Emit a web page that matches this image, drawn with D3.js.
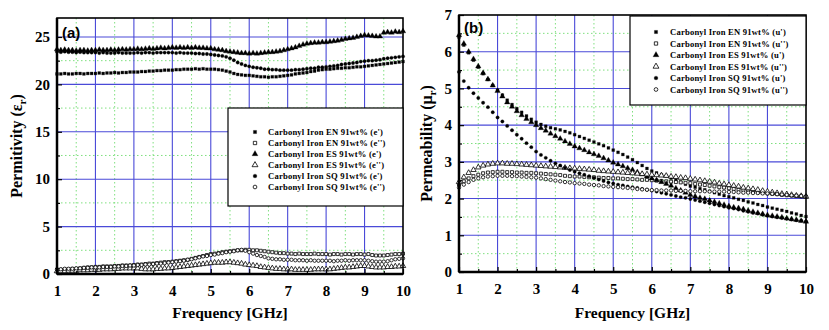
<!DOCTYPE html>
<html>
<head>
<meta charset="utf-8">
<script src="https://cdn.jsdelivr.net/npm/d3@7"></script>
<style>
  body { margin: 0; background: #fff; }
  svg { display: block; }
  .axis path.domain { display: none; }
  .axis line { stroke: #000; stroke-width: 1.2; }
</style>
</head>
<body>
<div id="chart"></div>
<script>
var SERIF = "'Liberation Serif', 'DejaVu Serif', serif";

// x sampling grids (GHz)
var freqA = d3.range(0, 91).map(function(i) { return 1 + i / 10; });
var freqB = d3.range(0, 73).map(function(i) { return 1 + i / 8; });

var xTicks = [1, 2, 3, 4, 5, 6, 7, 8, 9, 10];
var yTicksA = [0, 5, 10, 15, 20, 25];
var yTicksB = [0, 1, 2, 3, 4, 5, 6, 7];

// panel (a) permittivity, 0.1 GHz steps
var enReA = [21.1,21.1,21.15,21.1,21.1,21.15,21.15,21.1,21.15,21.15,
  21.15,21.2,21.15,21.2,21.2,21.25,21.2,21.25,21.25,21.3,
  21.3,21.3,21.35,21.35,21.4,21.4,21.45,21.45,21.5,21.5,
  21.5,21.55,21.55,21.6,21.6,21.6,21.65,21.6,21.65,21.6,
  21.6,21.6,21.55,21.5,21.4,21.3,21.15,21.05,21.0,20.95,
  20.95,20.9,20.85,20.8,20.8,20.75,20.8,20.8,20.85,20.9,
  20.95,21.0,21.1,21.15,21.2,21.25,21.35,21.4,21.5,21.55,
  21.6,21.6,21.65,21.7,21.7,21.75,21.75,21.8,21.85,21.85,
  21.9,21.95,22.0,22.05,22.1,22.15,22.2,22.25,22.3,22.35,
  22.4];
var enImA = [0.45,0.45,0.5,0.5,0.55,0.55,0.6,0.65,0.7,0.7,
  0.75,0.75,0.8,0.8,0.8,0.85,0.85,0.9,0.9,0.9,
  0.95,1.0,1.0,1.05,1.1,1.1,1.15,1.2,1.25,1.25,
  1.3,1.35,1.4,1.45,1.5,1.6,1.7,1.8,1.9,2.0,
  2.1,2.15,2.2,2.3,2.35,2.4,2.45,2.5,2.5,2.55,
  2.55,2.5,2.5,2.45,2.4,2.35,2.3,2.25,2.2,2.2,
  2.15,2.15,2.1,2.15,2.1,2.1,2.1,2.15,2.1,2.1,
  2.1,2.05,2.1,2.1,2.05,2.1,2.1,2.05,2.1,2.1,
  2.05,2.1,2.0,1.95,1.95,1.95,2.0,2.05,2.1,2.1,
  2.15];
var esReA = [23.7,23.6,23.65,23.6,23.6,23.55,23.6,23.6,23.55,23.6,
  23.6,23.65,23.6,23.6,23.65,23.6,23.65,23.7,23.65,23.7,
  23.7,23.75,23.7,23.75,23.8,23.75,23.8,23.85,23.8,23.85,
  23.9,23.85,23.9,23.85,23.9,23.85,23.9,23.85,23.85,23.8,
  23.8,23.7,23.65,23.6,23.5,23.45,23.4,23.35,23.3,23.3,
  23.25,23.3,23.25,23.3,23.35,23.4,23.4,23.45,23.5,23.6,
  23.7,23.8,23.9,24.05,24.2,24.3,24.35,24.4,24.4,24.45,
  24.45,24.5,24.55,24.6,24.7,24.8,24.85,24.9,25.0,25.1,
  25.2,25.15,25.1,25.05,25.05,25.45,25.5,25.45,25.55,25.5,
  25.6];
var esImA = [0.3,0.3,0.3,0.35,0.35,0.35,0.4,0.4,0.4,0.45,
  0.45,0.45,0.5,0.5,0.5,0.55,0.55,0.6,0.6,0.6,
  0.6,0.6,0.55,0.5,0.5,0.5,0.55,0.55,0.6,0.6,
  0.65,0.7,0.75,0.8,0.85,0.9,0.95,1.0,1.05,1.1,
  1.15,1.2,1.2,1.2,1.25,1.25,1.2,1.15,1.1,1.0,
  0.95,0.9,0.85,0.75,0.7,0.65,0.6,0.55,0.55,0.5,
  0.5,0.5,0.45,0.45,0.45,0.45,0.45,0.5,0.5,0.5,
  0.5,0.5,0.55,0.6,0.65,0.7,0.7,0.75,0.8,0.85,
  0.85,0.8,0.75,0.7,0.7,0.7,0.75,0.75,0.8,0.8,
  0.85];
var sqReA = [23.45,23.4,23.45,23.4,23.4,23.35,23.4,23.35,23.35,23.35,
  23.35,23.3,23.35,23.3,23.3,23.3,23.35,23.3,23.3,23.3,
  23.3,23.35,23.3,23.35,23.35,23.3,23.35,23.35,23.35,23.35,
  23.35,23.3,23.35,23.3,23.3,23.3,23.25,23.25,23.2,23.2,
  23.15,23.1,23.05,23.0,22.9,22.75,22.55,22.3,22.15,22.0,
  21.9,21.8,21.75,21.7,21.6,21.6,21.55,21.55,21.5,21.5,
  21.5,21.5,21.55,21.55,21.6,21.65,21.7,21.7,21.8,21.8,
  21.85,21.9,21.95,22.0,22.1,22.15,22.2,22.25,22.3,22.4,
  22.45,22.5,22.5,22.55,22.6,22.7,22.75,22.8,22.85,22.9,
  22.95];
var sqImA = [0.5,0.5,0.55,0.55,0.55,0.6,0.6,0.65,0.65,0.7,
  0.7,0.7,0.75,0.75,0.75,0.8,0.8,0.85,0.85,0.9,
  0.9,0.95,0.95,1.0,1.0,1.05,1.1,1.1,1.15,1.2,
  1.25,1.3,1.35,1.4,1.5,1.55,1.65,1.75,1.85,1.9,
  2.0,2.05,2.15,2.2,2.3,2.35,2.4,2.5,2.55,2.45,
  2.3,2.15,2.0,1.9,1.8,1.65,1.6,1.55,1.55,1.5,
  1.5,1.5,1.45,1.45,1.45,1.4,1.45,1.4,1.4,1.4,
  1.4,1.4,1.35,1.4,1.4,1.45,1.4,1.45,1.45,1.45,
  1.45,1.4,1.35,1.3,1.3,1.3,1.35,1.45,1.55,1.6,
  1.65];

// panel (b) permeability, 0.125 GHz steps
var enReB = [6.4,6.18,5.97,5.77,5.58,5.4,5.24,5.08,
  4.95,4.82,4.68,4.56,4.45,4.35,4.25,4.16,
  4.08,4.02,3.97,3.93,3.9,3.87,3.83,3.79,
  3.74,3.69,3.64,3.59,3.54,3.49,3.44,3.38,
  3.32,3.26,3.2,3.13,3.06,2.98,2.9,2.82,
  2.75,2.7,2.65,2.61,2.56,2.5,2.45,2.39,
  2.34,2.31,2.27,2.24,2.2,2.16,2.12,2.08,
  2.05,2.02,1.98,1.95,1.91,1.88,1.84,1.81,
  1.77,1.74,1.71,1.68,1.65,1.61,1.58,1.54,
  1.51];
var enImB = [2.38,2.47,2.55,2.61,2.65,2.69,2.71,2.72,
  2.73,2.73,2.72,2.72,2.71,2.71,2.7,2.7,
  2.69,2.68,2.67,2.66,2.65,2.64,2.62,2.61,
  2.6,2.6,2.59,2.58,2.58,2.57,2.56,2.56,
  2.55,2.55,2.54,2.53,2.53,2.52,2.51,2.51,
  2.5,2.49,2.48,2.47,2.46,2.45,2.44,2.43,
  2.42,2.4,2.38,2.37,2.35,2.33,2.31,2.3,
  2.28,2.26,2.24,2.23,2.21,2.19,2.17,2.16,
  2.14,2.13,2.12,2.1,2.09,2.08,2.07,2.06,
  2.05];
var esReB = [6.45,6.22,6.0,5.8,5.6,5.42,5.25,5.08,
  4.93,4.78,4.62,4.5,4.38,4.27,4.17,4.08,
  4.0,3.92,3.85,3.77,3.7,3.63,3.56,3.49,
  3.42,3.37,3.32,3.26,3.21,3.16,3.1,3.04,
  2.98,2.93,2.88,2.83,2.78,2.72,2.66,2.6,
  2.55,2.5,2.45,2.4,2.35,2.28,2.22,2.16,
  2.1,2.06,2.02,1.99,1.95,1.91,1.87,1.83,
  1.79,1.76,1.74,1.71,1.67,1.64,1.61,1.58,
  1.55,1.53,1.51,1.49,1.46,1.44,1.42,1.39,
  1.37];
var esImB = [2.45,2.58,2.7,2.78,2.85,2.9,2.93,2.95,
  2.96,2.96,2.95,2.95,2.94,2.93,2.92,2.91,
  2.9,2.89,2.88,2.87,2.86,2.85,2.84,2.83,
  2.82,2.81,2.8,2.79,2.78,2.76,2.75,2.74,
  2.73,2.72,2.71,2.7,2.69,2.68,2.67,2.66,
  2.65,2.64,2.63,2.62,2.6,2.59,2.57,2.56,
  2.54,2.52,2.5,2.48,2.46,2.44,2.41,2.39,
  2.37,2.35,2.33,2.3,2.28,2.26,2.24,2.21,
  2.19,2.17,2.15,2.13,2.12,2.1,2.08,2.07,
  2.05];
var sqReB = [5.45,5.2,5.02,4.87,4.74,4.61,4.49,4.35,
  4.21,4.1,3.98,3.86,3.74,3.63,3.51,3.4,
  3.28,3.19,3.11,3.03,2.96,2.9,2.84,2.78,
  2.73,2.69,2.65,2.61,2.56,2.52,2.48,2.44,
  2.41,2.38,2.36,2.33,2.31,2.29,2.26,2.24,
  2.22,2.19,2.16,2.13,2.1,2.07,2.04,2.02,
  1.99,1.96,1.93,1.9,1.87,1.84,1.81,1.78,
  1.75,1.73,1.7,1.67,1.64,1.61,1.59,1.56,
  1.53,1.51,1.49,1.47,1.45,1.43,1.41,1.4,
  1.38];
var sqImB = [2.3,2.38,2.45,2.51,2.55,2.58,2.6,2.61,
  2.62,2.62,2.62,2.61,2.61,2.6,2.59,2.58,
  2.57,2.55,2.53,2.51,2.49,2.47,2.45,2.44,
  2.42,2.41,2.4,2.38,2.37,2.36,2.34,2.33,
  2.32,2.31,2.3,2.29,2.28,2.26,2.25,2.24,
  2.23,2.23,2.22,2.22,2.22,2.21,2.21,2.21,
  2.2,2.2,2.2,2.2,2.19,2.19,2.19,2.19,
  2.18,2.18,2.17,2.16,2.16,2.15,2.15,2.14,
  2.14,2.13,2.12,2.11,2.1,2.09,2.08,2.07,
  2.06];

var labelsA = ["Carbonyl Iron EN 91wt% (e')", "Carbonyl Iron EN 91wt% (e'')",
  "Carbonyl Iron ES 91wt% (e')", "Carbonyl Iron ES 91wt% (e'')",
  "Carbonyl Iron SQ 91wt% (e')", "Carbonyl Iron SQ 91wt% (e'')"];
var labelsB = ["Carbonyl Iron EN 91wt% (u')", "Carbonyl Iron EN 91wt% (u'')",
  "Carbonyl Iron ES 91wt% (u')", "Carbonyl Iron ES 91wt% (u'')",
  "Carbonyl Iron SQ 91wt% (u')", "Carbonyl Iron SQ 91wt% (u'')"];

// marker styles, same order as the legends
var markers = [
  {type: d3.symbolSquare,   size: 8,  open: false},
  {type: d3.symbolSquare,   size: 9,  open: true},
  {type: d3.symbolTriangle, size: 13, open: false},
  {type: d3.symbolTriangle, size: 13, open: true},
  {type: d3.symbolCircle,   size: 9,  open: false},
  {type: d3.symbolCircle,   size: 9,  open: true}
];

var svg = d3.select("#chart").append("svg")
    .attr("width", 829)
    .attr("height", 330);

function drawPanel(p) {
  var x = d3.scaleLinear().domain([1, 10]).range([p.left, p.right]);
  var y = d3.scaleLinear().domain([0, p.ymax]).range([p.bottom, p.top]);
  var g = svg.append("g");

  // minor green dotted grid
  var xMinor = d3.range(1.5, 10, 1);
  var yMinor = d3.range(p.ystep / 2, p.ymax, p.ystep);
  g.selectAll(".gxm").data(xMinor).enter().append("line")
      .attr("x1", d => x(d)).attr("x2", d => x(d))
      .attr("y1", p.top).attr("y2", p.bottom)
      .attr("stroke", "#7fe07f").attr("stroke-width", 1).attr("stroke-dasharray", "1.5,2.5");
  g.selectAll(".gym").data(yMinor).enter().append("line")
      .attr("x1", p.left).attr("x2", p.right)
      .attr("y1", d => y(d)).attr("y2", d => y(d))
      .attr("stroke", "#7fe07f").attr("stroke-width", 1).attr("stroke-dasharray", "1.5,2.5");

  // major blue grid
  g.selectAll(".gx").data(xTicks.slice(1, -1)).enter().append("line")
      .attr("x1", d => x(d)).attr("x2", d => x(d))
      .attr("y1", p.top).attr("y2", p.bottom)
      .attr("stroke", "#4a4ad8").attr("stroke-width", 1.1);
  g.selectAll(".gy").data(p.yTicks.filter(d => d > 0 && d < p.ymax)).enter().append("line")
      .attr("x1", p.left).attr("x2", p.right)
      .attr("y1", d => y(d)).attr("y2", d => y(d))
      .attr("stroke", "#4a4ad8").attr("stroke-width", 1.1);

  // series
  p.series.forEach(function(vals, i) {
    var m = markers[i];
    var sym = d3.symbol().type(m.type).size(m.size);
    g.append("g").selectAll("path").data(vals).enter().append("path")
        .attr("d", sym)
        .attr("transform", function(d, j) { return "translate(" + x(p.freq[j]) + "," + y(d) + ")"; })
        .attr("fill", m.open ? "#fff" : "#000")
        .attr("stroke", "#000")
        .attr("stroke-width", m.open ? 0.8 : 0.3);
  });

  // axes with inward ticks
  var xa = g.append("g").attr("class", "axis")
      .attr("transform", "translate(0," + p.bottom + ")")
      .call(d3.axisBottom(x).tickValues(xTicks).tickSize(-5).tickPadding(11).tickFormat(d3.format("d")));
  g.append("g").attr("class", "axis")
      .attr("transform", "translate(0," + p.bottom + ")")
      .call(d3.axisBottom(x).tickValues(xMinor).tickSize(-3).tickFormat(""));
  var ya = g.append("g").attr("class", "axis")
      .attr("transform", "translate(" + p.left + ",0)")
      .call(d3.axisLeft(y).tickValues(p.yTicks).tickSize(-5).tickPadding(7).tickFormat(d3.format("d")));
  g.append("g").attr("class", "axis")
      .attr("transform", "translate(" + p.left + ",0)")
      .call(d3.axisLeft(y).tickValues(yMinor).tickSize(-3).tickFormat(""));
  [xa, ya].forEach(function(a) {
    a.attr("font-family", null).attr("font-size", null);
    a.selectAll("text")
        .style("font-family", SERIF)
        .style("font-weight", "bold")
        .style("font-size", "15px")
        .attr("fill", "#000");
  });

  // frame
  g.append("rect")
      .attr("x", p.left).attr("y", p.top)
      .attr("width", p.right - p.left).attr("height", p.bottom - p.top)
      .attr("fill", "none").attr("stroke", "#000").attr("stroke-width", 1.6);
  g.append("line")
      .attr("x1", p.left).attr("x2", p.right).attr("y1", p.bottom).attr("y2", p.bottom)
      .attr("stroke", "#000").attr("stroke-width", 2.5);
  g.append("line")
      .attr("x1", p.left).attr("x2", p.left).attr("y1", p.top).attr("y2", p.bottom)
      .attr("stroke", "#000").attr("stroke-width", 2.5);

  // panel tag
  g.append("text")
      .attr("x", p.left + 5).attr("y", p.top + p.tagDy)
      .style("font-family", "'Liberation Sans', Arial, sans-serif")
      .style("font-weight", "bold").style("font-size", "15px")
      .text(p.tag);

  // axis titles
  g.append("text")
      .attr("x", (p.left + p.right) / 2).attr("y", 318)
      .attr("text-anchor", "middle")
      .style("font-family", SERIF).style("font-weight", "bold").style("font-size", "15.5px")
      .text("Frequency [GHz]");
  var yt = g.append("text")
      .attr("transform", "translate(" + p.ytx + "," + ((p.top + p.bottom) / 2) + ") rotate(-90)")
      .attr("text-anchor", "middle")
      .style("font-family", SERIF).style("font-weight", "bold").style("font-size", "16px");
  yt.append("tspan").text(p.ytitle + " (" + p.sym);
  yt.append("tspan").attr("dy", 4).style("font-size", "11px").text("r");
  yt.append("tspan").attr("dy", -4).text(")");

  // legend
  var lg = g.append("g");
  lg.append("rect")
      .attr("x", p.lg.x).attr("y", p.lg.y)
      .attr("width", p.lg.w).attr("height", p.lg.h)
      .attr("fill", "#fff").attr("stroke", "#000").attr("stroke-width", 1.2);
  p.labels.forEach(function(t, i) {
    var m = markers[i];
    var cy = p.lg.y + p.lg.first + i * p.lg.dy;
    lg.append("path")
        .attr("d", d3.symbol().type(m.type).size(m.size + 2)())
        .attr("transform", "translate(" + (p.lg.x + p.lg.mx) + "," + cy + ")")
        .attr("fill", m.open ? "#fff" : "#000")
        .attr("stroke", "#000").attr("stroke-width", m.open ? 0.8 : 0.3);
    lg.append("text")
        .attr("x", p.lg.x + p.lg.tx).attr("y", cy + 3.2)
        .style("font-family", SERIF).style("font-weight", "bold").style("font-size", "8.6px")
        .style("letter-spacing", "0.2px")
        .text(t);
  });
}

drawPanel({
  left: 57, right: 403, top: 18, bottom: 274,
  ymax: 27, ystep: 5, yTicks: yTicksA,
  freq: freqA,
  series: [enReA, enImA, esReA, esImA, sqReA, sqImA],
  labels: labelsA,
  tag: "(a)", tagDy: 20,
  ytitle: "Permitivity", sym: "\u03b5", ytx: 22,
  lg: {x: 228, y: 108, w: 175, h: 98, first: 24, dy: 11, mx: 27, tx: 40}
});

drawPanel({
  left: 459, right: 806, top: 15, bottom: 272,
  ymax: 7, ystep: 1, yTicks: yTicksB,
  freq: freqB,
  series: [enReB, enImB, esReB, esImB, sqReB, sqImB],
  labels: labelsB,
  tag: "(b)", tagDy: 18,
  ytitle: "Permeability", sym: "\u03bc", ytx: 432,
  lg: {x: 630, y: 16, w: 176, h: 89, first: 16, dy: 11.5, mx: 26, tx: 40}
});
</script>
</body>
</html>
